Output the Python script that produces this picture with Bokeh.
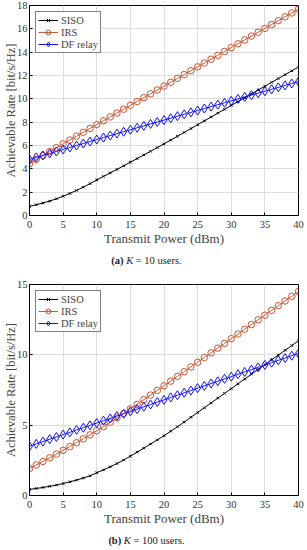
from bokeh.plotting import figure
from bokeh.layouts import column
from bokeh.models import Range1d, FixedTicker, Div
from bokeh.embed import file_html
from bokeh.resources import INLINE

power_dbm = list(range(0, 41))

siso_a = [0.78, 0.92, 1.07, 1.24, 1.43, 1.65, 1.89, 2.15, 2.43, 2.73, 3.05, 3.35, 3.65, 3.95,
          4.26, 4.57, 4.88, 5.19, 5.50, 5.82, 6.14, 6.46, 6.79, 7.12, 7.45, 7.78, 8.11, 8.44,
          8.77, 9.10, 9.43, 9.76, 10.09, 10.42, 10.75, 11.08, 11.41, 11.74, 12.07, 12.40, 12.73]
irs_a = [4.45, 4.80, 5.14, 5.48, 5.81, 6.14, 6.47, 6.80, 7.13, 7.46, 7.79, 8.12, 8.45, 8.78,
         9.11, 9.44, 9.77, 10.10, 10.43, 10.76, 11.09, 11.42, 11.75, 12.08, 12.41, 12.74, 13.07,
         13.40, 13.73, 14.06, 14.39, 14.72, 15.05, 15.38, 15.71, 16.04, 16.37, 16.70, 17.03,
         17.36, 17.69]
df_a = [4.80, 4.98, 5.15, 5.32, 5.49, 5.66, 5.83, 6.00, 6.17, 6.34, 6.51, 6.68, 6.85, 7.02,
        7.18, 7.35, 7.52, 7.68, 7.85, 8.01, 8.18, 8.34, 8.51, 8.67, 8.84, 9.00, 9.17, 9.33,
        9.50, 9.66, 9.83, 9.99, 10.16, 10.32, 10.49, 10.65, 10.82, 10.98, 11.15, 11.31, 11.48]

siso_b = [0.43, 0.50, 0.57, 0.65, 0.74, 0.85, 0.97, 1.10, 1.24, 1.40, 1.62, 1.82, 2.04, 2.27,
          2.52, 2.80, 3.08, 3.37, 3.66, 3.95, 4.25, 4.57, 4.89, 5.22, 5.56, 5.90, 6.24, 6.58,
          6.92, 7.26, 7.60, 7.94, 8.28, 8.62, 8.96, 9.30, 9.64, 9.98, 10.32, 10.66, 11.00]
irs_b = [1.92, 2.17, 2.42, 2.68, 2.94, 3.21, 3.48, 3.75, 4.03, 4.31, 4.60, 4.90, 5.21, 5.52,
         5.84, 6.16, 6.48, 6.81, 7.14, 7.47, 7.80, 8.13, 8.47, 8.80, 9.14, 9.47, 9.81, 10.14,
         10.48, 10.81, 11.15, 11.48, 11.82, 12.15, 12.49, 12.82, 13.16, 13.49, 13.83, 14.16, 14.50]
df_b = [3.50, 3.67, 3.83, 4.00, 4.16, 4.33, 4.49, 4.66, 4.82, 4.99, 5.15, 5.32, 5.48, 5.65,
        5.81, 5.98, 6.14, 6.31, 6.47, 6.64, 6.80, 6.97, 7.13, 7.30, 7.46, 7.63, 7.79, 7.96,
        8.12, 8.29, 8.45, 8.62, 8.78, 8.95, 9.11, 9.28, 9.44, 9.61, 9.77, 9.94, 10.10]

x_ticks = [0, 5, 10, 15, 20, 25, 30, 35, 40]
y_ticks_a = [0, 2, 4, 6, 8, 10, 12, 14, 16, 18]
y_ticks_b = [0, 5, 10, 15]

series_names = ["SISO", "IRS", "DF relay"]
captions = [("(a)", "= 10 users."), ("(b)", "= 100 users.")]
FONT = "Liberation Serif"
C_SISO = "#000000"
C_IRS_LINE = "#B8603A"
C_IRS = "#D4502F"
C_DF = "#1010F0"


def make_panel(siso, irs, df, ymax, yticks, border_top, frame_h):
    p = figure(frame_width=269, frame_height=frame_h,
               x_range=Range1d(0, 40), y_range=Range1d(0, ymax),
               output_backend="svg", toolbar_location=None,
               min_border_left=23, min_border_right=7, min_border_top=border_top,
               min_border_bottom=34)
    p.background_fill_color = "white"
    p.border_fill_color = "white"
    p.outline_line_color = "black"
    p.outline_line_width = 1

    p.line(power_dbm, siso, color=C_SISO, line_width=1, legend_label=series_names[0])
    p.scatter(power_dbm, siso, marker="x", size=3.5, line_color=C_SISO, line_width=1,
              legend_label=series_names[0])
    p.line(power_dbm, irs, color=C_IRS_LINE, line_width=1, legend_label=series_names[1])
    p.scatter(power_dbm, irs, marker="circle", size=6.5, line_color=C_IRS, fill_color=None,
              line_width=1, legend_label=series_names[1])
    p.line(power_dbm, df, color=C_DF, line_width=1, legend_label=series_names[2])
    p.scatter(power_dbm, df, marker="diamond", size=9, line_color=C_DF, fill_color=None,
              line_width=1, legend_label=series_names[2])

    for ax in (p.xaxis[0], p.yaxis[0]):
        ax.axis_line_color = "black"
        ax.major_tick_in = 3
        ax.major_tick_out = 0
        ax.minor_tick_line_color = None
        ax.major_label_text_font = FONT
        ax.major_label_text_font_size = "10.5px"
        ax.major_label_text_color = "#333333"
        ax.axis_label_text_font = FONT
        ax.axis_label_text_font_style = "normal"
        ax.axis_label_text_color = "#444444"
    p.xaxis.axis_label_text_font_size = "13px"
    p.yaxis.axis_label_text_font_size = "12.5px"
    p.xaxis.ticker = FixedTicker(ticks=x_ticks)
    p.yaxis.ticker = FixedTicker(ticks=yticks)
    p.xaxis.axis_label = "Transmit Power (dBm)"
    p.yaxis.axis_label = "Achievable Rate [bit/s/Hz]"
    p.xaxis.major_label_standoff = 5
    p.xaxis.axis_label_standoff = 0
    p.yaxis.major_label_standoff = 2
    p.yaxis.axis_label_standoff = -4

    p.xgrid.grid_line_color = "#dcdcdc"
    p.ygrid.grid_line_color = "#dcdcdc"
    p.xgrid.ticker = FixedTicker(ticks=x_ticks)
    p.ygrid.ticker = FixedTicker(ticks=yticks)

    lg = p.legend[0]
    lg.location = "top_left"
    lg.margin = 6
    lg.padding = 2
    lg.spacing = 0
    lg.label_text_font = FONT
    lg.label_text_font_size = "10.5px"
    lg.label_height = 12
    lg.glyph_height = 12
    lg.glyph_width = 20
    lg.label_standoff = 3
    lg.border_line_color = "black"
    lg.border_line_width = 1
    lg.background_fill_alpha = 1
    return p


def make_caption(tag, rest, height, pad_top):
    html = ('<div style="width:293px;text-align:center;font-family:\'Liberation Serif\';'
            'font-size:10.5px;line-height:12px;color:#222;padding-top:%dpx">'
            '<b>%s</b> <i>K</i> %s</div>' % (pad_top, tag, rest))
    return Div(text=html, width=299, height=height, margin=0)


p1 = make_panel(siso_a, irs_a, df_a, 18, y_ticks_a, 5, 210)
c1 = make_caption(captions[0][0], captions[0][1], 25, 6)
p2 = make_panel(siso_b, irs_b, df_b, 15, y_ticks_b, 10, 211)
c2 = make_caption(captions[1][0], captions[1][1], 18, 6)

layout = column(p1, c1, p2, c2, spacing=0)
open("out.html", "w").write(file_html(layout, INLINE))
